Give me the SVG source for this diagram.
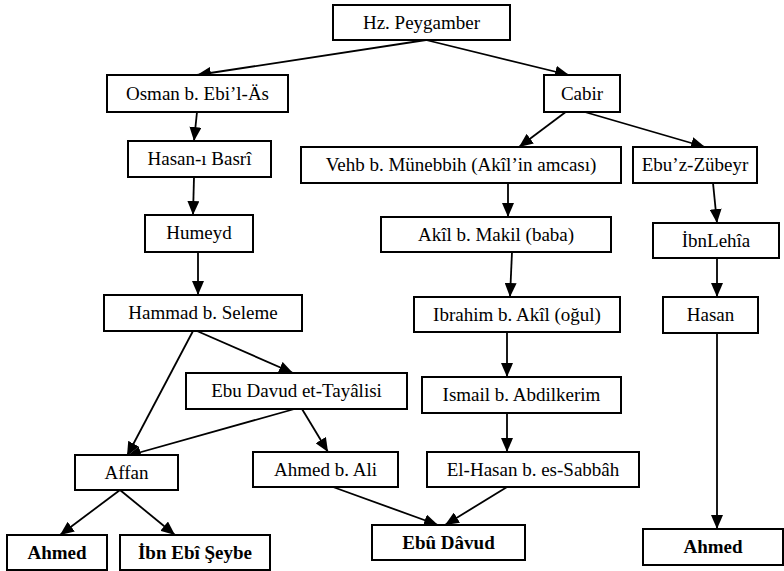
<svg xmlns="http://www.w3.org/2000/svg" width="784" height="571" viewBox="0 0 784 571">
<style>
rect{fill:#fff;stroke:#000;stroke-width:2}
text{font-family:"Liberation Serif","Times New Roman",serif;font-size:19px;fill:#000;text-anchor:middle}
text.b{font-weight:bold}
#connectors line{stroke:#000;stroke-width:1.8;marker-end:url(#ah)}
</style>
<defs>
<marker id="ah" viewBox="0 0 14 12" refX="14" refY="6" markerWidth="14" markerHeight="12" markerUnits="userSpaceOnUse" orient="auto">
<path d="M0,0 L14,6 L0,12 z" fill="#000"/>
</marker>
</defs>
<rect width="784" height="571" style="fill:#fff;stroke:none"/>
<g id="connectors">
<line x1="426" y1="40" x2="197" y2="75"/>
<line x1="426" y1="40" x2="569" y2="75"/>
<line x1="197" y1="112" x2="194" y2="141"/>
<line x1="194" y1="177" x2="193" y2="215"/>
<line x1="198" y1="252" x2="198" y2="295"/>
<line x1="197" y1="331" x2="293" y2="373"/>
<line x1="193" y1="331" x2="127" y2="456"/>
<line x1="298" y1="408" x2="127" y2="456"/>
<line x1="302" y1="409" x2="328" y2="452"/>
<line x1="571" y1="108" x2="519" y2="147"/>
<line x1="571" y1="108" x2="705" y2="147"/>
<line x1="508" y1="183" x2="508" y2="217"/>
<line x1="512" y1="252" x2="510" y2="297"/>
<line x1="507" y1="332" x2="507" y2="377"/>
<line x1="507" y1="413" x2="507" y2="452"/>
<line x1="713" y1="183" x2="717" y2="223"/>
<line x1="717" y1="258" x2="717" y2="297"/>
<line x1="717" y1="333" x2="717" y2="529"/>
<line x1="120" y1="490" x2="60" y2="535"/>
<line x1="120" y1="490" x2="175" y2="535"/>
<line x1="333" y1="487" x2="438" y2="525"/>
<line x1="507" y1="487" x2="445" y2="525"/>
</g>
<g id="hz"><rect x="333" y="5" width="177" height="35"/><text x="421.5" y="29">Hz. Peygamber</text></g>
<g id="osman"><rect x="107" y="75" width="181" height="37"/><text x="197.5" y="100">Osman b. Ebi’l-Äs</text></g>
<g id="cabir"><rect x="544" y="75" width="76" height="37"/><text x="582" y="100">Cabir</text></g>
<g id="hasan-basri"><rect x="128" y="141" width="143" height="36"/><text x="199.5" y="165">Hasan-ı Basrî</text></g>
<g id="vehb"><rect x="301" y="147" width="320" height="36"/><text x="461" y="171">Vehb b. Münebbih (Akîl’in amcası)</text></g>
<g id="ebuz"><rect x="633" y="147" width="124" height="36"/><text x="695" y="171">Ebu’z-Zübeyr</text></g>
<g id="humeyd"><rect x="145" y="215" width="108" height="37"/><text x="199" y="239">Humeyd</text></g>
<g id="akil"><rect x="381" y="217" width="230" height="35"/><text x="496" y="241">Akîl b. Makil (baba)</text></g>
<g id="ibnlehia"><rect x="653" y="223" width="126" height="35"/><text x="716" y="247">İbnLehîa</text></g>
<g id="hammad"><rect x="104" y="295" width="198" height="36"/><text x="203" y="319">Hammad b. Seleme</text></g>
<g id="ibrahim"><rect x="414" y="297" width="206" height="35"/><text x="517" y="321">Ibrahim b. Akîl (oğul)</text></g>
<g id="hasan"><rect x="663" y="297" width="95" height="36"/><text x="710.5" y="321">Hasan</text></g>
<g id="tayalisi"><rect x="186" y="373" width="221" height="36"/><text x="296.5" y="397">Ebu Davud et-Tayâlisi</text></g>
<g id="ismail"><rect x="422" y="377" width="199" height="36"/><text x="521.5" y="401">Ismail b. Abdilkerim</text></g>
<g id="affan"><rect x="75" y="455" width="103" height="35"/><text x="126.5" y="479">Affan</text></g>
<g id="ahmed-ali"><rect x="253" y="452" width="145" height="35"/><text x="325.5" y="476">Ahmed b. Ali</text></g>
<g id="elhasan"><rect x="427" y="452" width="212" height="35"/><text x="533" y="476">El-Hasan b. es-Sabbâh</text></g>
<g id="ahmed1"><rect x="7" y="535" width="100" height="35"/><text class="b" x="57" y="559">Ahmed</text></g>
<g id="ibnebi"><rect x="120" y="535" width="150" height="35"/><text class="b" x="195" y="559">İbn Ebî Şeybe</text></g>
<g id="ebudavud"><rect x="372" y="525" width="153" height="35"/><text class="b" x="448.5" y="549">Ebû Dâvud</text></g>
<g id="ahmed2"><rect x="643" y="529" width="140" height="36"/><text class="b" x="713" y="553">Ahmed</text></g>
</svg>
